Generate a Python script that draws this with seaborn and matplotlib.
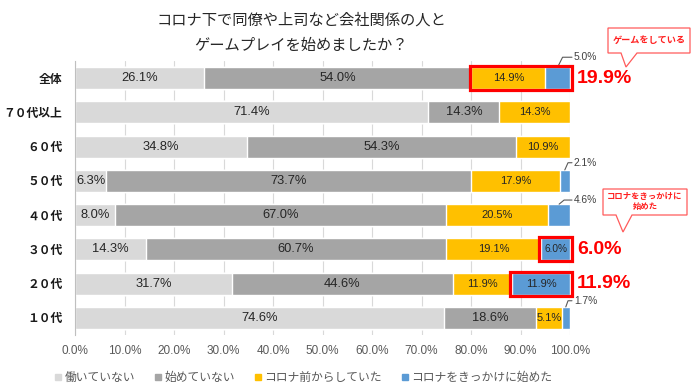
import numpy as np
import pandas as pd
import matplotlib
matplotlib.use("Agg")
import matplotlib.pyplot as plt
import seaborn as sns
from matplotlib.patches import Rectangle, Polygon
from matplotlib.lines import Line2D

categories = ['全体', '７０代以上', '６０代', '５０代', '４０代', '３０代', '２０代', '１０代']
not_working = [26.1, 71.4, 34.8, 6.3, 8.0, 14.3, 31.7, 74.6]
not_started = [54.0, 14.3, 54.3, 73.7, 67.0, 60.7, 44.6, 18.6]
before_corona = [14.9, 14.3, 10.9, 17.9, 20.5, 19.1, 11.9, 5.1]
started_corona = [5.0, 0.0, 0.0, 2.1, 4.6, 6.0, 11.9, 1.7]
series_names = ['働いていない', '始めていない', 'コロナ前からしていた', 'コロナをきっかけに始めた']
colors = ['#D9D9D9', '#A5A5A5', '#FFC000', '#5B9BD5']
x_ticks = [0, 10, 20, 30, 40, 50, 60, 70, 80, 90, 100]

sns.set_theme(style='white')
plt.rcParams['font.family'] = ['Liberation Sans', 'Noto Sans CJK JP', 'DejaVu Sans']

W, H = 700, 391
fig = plt.figure(figsize=(7.0, 3.91), dpi=100)
ax = fig.add_axes([75 / W, 1 - 335 / H, 495 / W, 274 / H])

df = pd.DataFrame({'cat': categories, 's0': not_working, 's1': not_started,
                   's2': before_corona, 's3': started_corona})
layers = [df['s0'].values, df['s1'].values, df['s2'].values, df['s3'].values]
cums = np.cumsum(np.vstack(layers), axis=0)
BW = 0.64
for k in range(3, -1, -1):
    d = pd.DataFrame({'cat': categories, 'val': np.minimum(cums[k], 100.0)})
    sns.barplot(data=d, x='val', y='cat', color=colors[k], orient='h', width=BW,
                saturation=1, ax=ax, zorder=2)

ax.set_xlim(0, 100)
ax.set_ylim(7.5, -0.5)
ax.set_xticks(x_ticks)
ax.set_xticklabels([f'{t:.1f}%' for t in x_ticks], fontsize=8.5, color='#595959')
ax.tick_params(axis='x', length=0, pad=7)
ax.tick_params(axis='y', length=0, pad=9, labelsize=8.5, labelcolor='#1a1a1a')
for lab in ax.get_yticklabels():
    lab.set_fontweight('bold')
ax.set_xlabel('')
ax.set_ylabel('')
ax.xaxis.grid(True, color='#D9D9D9', lw=0.8, zorder=0)
ax.yaxis.grid(False)
ax.set_axisbelow(True)
for s in ['top', 'right', 'bottom']:
    ax.spines[s].set_visible(False)
ax.spines['left'].set_color('#BFBFBF')
ax.spines['left'].set_linewidth(0.8)

# inside labels
inside_blue = {5, 6}
for i in range(len(categories)):
    starts = [0.0, cums[0][i], cums[1][i], cums[2][i]]
    for k in range(4):
        v = layers[k][i]
        if v <= 0:
            continue
        if k == 3 and i not in inside_blue:
            continue
        cx = starts[k] + v / 2
        fs = 9.3 if k < 2 else (7.3 if (k == 3 and v < 8) else 8.0)
        ax.text(cx, i, f'{v:.1f}%', ha='center', va='center', fontsize=fs,
                color='#262626', zorder=5)

# outside labels with leader lines
outside = {0: -0.61, 3: -0.53, 4: -0.44, 7: -0.5}
for i, dy in outside.items():
    v = layers[3][i]
    cx = cums[2][i] + v / 2
    top = i - BW / 2
    ylab = i + dy
    ax.plot([cx, min(cx + 1.0, 99.6), 100.4], [top, ylab, ylab], color='#595959',
            lw=0.8, clip_on=False, zorder=6)
    ax.text(100.8, ylab, f'{v:.1f}%', ha='left', va='center', fontsize=7.4,
            color='#404040', clip_on=False)

# red highlight boxes
red = '#FF0000'
hl = [(0, cums[1][0]), (5, cums[2][5]), (6, cums[2][6])]
for i, x0 in hl:
    ax.add_patch(Rectangle((x0 - 0.4, i - BW / 2 - 0.03), 100.4 - x0 + 0.4, BW + 0.06,
                           fill=False, ec=red, lw=2.3, zorder=7, clip_on=False))

big = {0: '19.9%', 5: '6.0%', 6: '11.9%'}
for i, t in big.items():
    ax.text(101.4, i, t, ha='left', va='center', fontsize=14, fontweight='bold',
            color=red, clip_on=False)

# callouts
def px(x, y):
    return (x / W, 1 - y / H)

def callout(box, base, tip, text, fs):
    x0, y0, x1, y1 = box
    pts = [(x0, y0), (x1, y0), (x1, y1), (base[1], y1), tip, (base[0], y1), (x0, y1)]
    fig.patches.append(Polygon([px(*p) for p in pts], closed=True, fc='white',
                               ec='#FF5B5B', lw=0.9, transform=fig.transFigure,
                               figure=fig))
    fig.text(*px((x0 + x1) / 2, (y0 + y1) / 2), text, ha='center', va='center',
             fontsize=fs, fontweight='bold', color='#FF2020', linespacing=1.35)

callout((608, 28, 690, 53), (621, 637), (626, 67), 'ゲームをしている', 6.6)
callout((603, 189, 687, 215), (616, 632), (623, 232), 'コロナをきっかけに\n始めた', 6.0)

# title
fig.text(*px(301, 20), 'コロナ下で同僚や上司など会社関係の人と', ha='center', va='center',
         fontsize=11, color='#262626')
fig.text(*px(301, 46), 'ゲームプレイを始めましたか？', ha='center', va='center',
         fontsize=11, color='#262626')

# legend
handles = [Line2D([], [], marker='s', ls='none', color=c, markersize=5) for c in colors]
fig.legend(handles, series_names, loc='center', bbox_to_anchor=px(303, 378), ncol=4,
           frameon=False, fontsize=8.5, labelcolor='#595959', handletextpad=0.1,
           columnspacing=1.6, handlelength=0.8)

fig.savefig('out.png', dpi=100)
